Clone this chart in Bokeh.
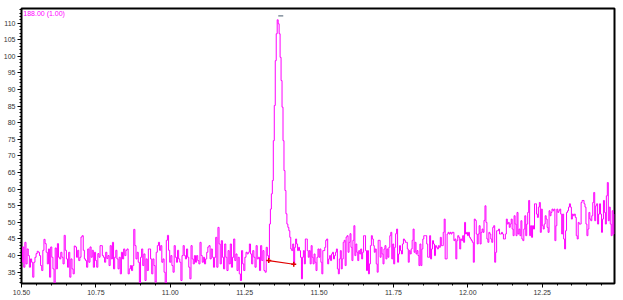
from bokeh.plotting import figure
from bokeh.models import SingleIntervalTicker, NumeralTickFormatter, Range1d, Label
from bokeh.embed import file_html
from bokeh.resources import INLINE
import numpy as np

# ---- data ----
title_text = "188.00 (1.00)"

# time windows of each stretch of the trace (min)
pre_start, pre_end = 10.500, 11.330
peak_start, peak_end = 11.330, 11.405
post_start, post_end = 11.405, 12.495

# abundance before the peak
pre_vals = [38, 42.6, 36.5, 44, 37.5, 42, 40, 36.5, 39, 38, 33.5, 38, 39.5, 40.6, 41.3, 41, 40, 37, 35.5,
            41.6, 44.9, 43.6, 41, 37.5, 42, 33.5, 42.6, 39.5, 36, 31.5, 42.3, 36, 43.6, 39.5, 39, 41, 39.5,
            37.5, 46.1, 41.6, 39, 36.5, 41, 33.5, 39, 36, 34.5, 42.9, 42.6, 39.5, 41.6, 38.5, 39.5, 45.6,
            46, 41.6, 39, 38.5, 36.5, 42, 38, 42.6, 39.5, 41.6, 36.5, 41, 38.5, 36.5, 40.6, 39.5, 43, 43,
            40, 39.5, 38, 41, 39.1, 40, 37, 43,
            39, 44, 36, 39.5, 41.6, 39, 36, 39.5, 34.5, 41, 39, 42, 40, 41.6, 42, 34.5, 36, 37, 35.5, 37,
            47.9, 43, 39, 41, 38, 31.5, 39.5, 42, 37, 40.5, 32.5, 39, 35.5, 42, 42, 39, 34.5, 39, 37, 32,
            41, 43, 44, 41.6, 43, 38, 39, 35, 31.5, 44.6, 46.1, 41.6, 38, 40, 37, 35, 43, 39.5, 38, 41.6,
            39, 38, 32.5, 40, 43, 40, 39, 42, 39.5, 36.5, 33, 43, 39, 37.5, 40, 38, 40, 38.5, 37.5, 44,
            40, 38, 39.5, 37.5, 39, 41, 42.6, 43, 39, 42, 39.5, 36.5,
            39.5, 45.5, 36.5, 48.5, 43.5, 37.5, 44.5, 39.5, 36, 43.5, 39.5, 35.5, 41.5, 37.5, 43.5, 36.5,
            39.5, 45, 38.5, 40.5, 35.5, 39.5, 34.5, 32.5, 41.5, 37.5, 35.5, 39.5, 41, 40.5, 41, 43.5, 40.5,
            37.5, 41.5, 39.5, 36.5, 43, 39, 39.5, 35.5, 43, 38.5, 41.5, 35.5, 35, 42.5, 40]

# abundance across the peak
peak_vals = [39, 49.5, 54, 58.6, 62.6, 74.6, 85.2, 98.7, 106.8, 111, 109.8, 106.8, 99.7, 92.7, 84.7,
             74.6, 65.6, 59.6, 52.6, 49.5, 48.5, 47.5, 45.5]

# abundance after the peak
post_vals = [42, 41.5, 43.5, 37.5, 42.5, 45, 43.5, 41.5, 42.5, 41.5, 39.5, 33, 39.5, 41.5, 37.5, 45, 45,
             41.5, 39.5, 41.5, 37.5, 43, 39.5, 37.5, 40.5, 38, 35.5, 39.5, 42, 39.5, 42,
             38, 34.5, 41.5, 41.5, 42.5, 44.6, 45, 37.5, 39, 40, 38.5, 40.5, 41, 39, 40, 41, 42, 36, 34.5,
             39, 41.5, 36, 39, 44, 44.6, 37, 45.6, 46, 41, 44, 46.6, 42.5, 38.5, 44.6, 49, 40, 43.5, 41,
             38.5, 41.5, 40.5, 42, 39, 41, 46, 46, 41.5, 35.5, 41.5, 34.5, 37.5, 43, 46, 45, 43, 41, 42,
             37.5, 35, 44.6, 44.6, 39.5, 42.5, 40.5, 37.5, 42, 43, 39, 42, 39.5, 42.5, 46, 47, 39, 43.5,
             37.5, 42.5, 46.6, 48, 38, 40.5, 43, 41.5, 40.5, 43.5, 45, 44.6, 44, 44, 42, 38, 41.5, 40.5,
             42, 44.6, 48, 41, 44, 40.5, 41.5, 40, 37,
             43.5, 37, 42, 45, 46, 46, 46, 43.5, 39.5, 39.5, 46, 39, 42, 44.5, 43.5, 40, 43, 42.5, 42, 43,
             42.5, 45.5, 43, 43, 47, 51, 39, 39, 46.5, 47, 46.5, 47, 46.5, 47, 47, 44.5, 45, 39, 44.5, 46,
             45.5, 42, 45, 44.5, 46, 44, 50, 46.5, 47, 46, 47, 45.5, 45, 44.5, 44, 38, 51, 50.6, 46.5,
             43.5, 46.5, 49, 43.5, 47, 48, 47, 50.6, 55, 50, 45, 44, 47, 46.5, 45, 44, 48.5, 49, 38, 41,
             47.5, 47.5, 48, 46.5, 46.5, 47, 46.5, 45, 45, 46.5, 51, 49.5, 50, 48.5, 49.5, 51, 48, 46, 52,
             49.5, 46, 53, 46.5,
             48, 46, 50.5, 45, 44.5, 48, 52, 46, 49.5, 53, 56.6, 46, 49, 45.5, 49, 48, 55.6, 55.6, 52.5,
             51.5, 54.6, 56, 47, 54, 49, 48, 49.5, 52, 51, 48.5, 47, 53.5, 52, 53, 54, 53.5, 54, 44.5, 49,
             54, 53, 53.5, 54, 52.5, 46.5, 52.5, 45, 42, 47.5, 53, 53.5, 54.6, 55.6, 54.6, 51, 52.5, 52,
             52.5, 51.5, 46, 45, 50, 49.5, 49.5, 56, 56.6, 56.6, 55.6, 54.6, 49.5, 46, 48, 53, 51, 50.5,
             52, 56, 59, 50.5, 55, 55.6, 49.5, 52.5, 55.6, 52.5, 47, 51, 56.6, 53, 49.5, 58, 62, 50.5,
             54.6, 49.5, 46, 53.5, 46.5, 52.5]

# integration baseline (start / end)
base_t = [11.331, 11.415]
base_v = [38.5, 37.4]

# axis extents
x_lo, x_hi = 10.50, 12.493
y_lo, y_hi = 31.6, 114.4

# ---- build series ----
t_pre = np.linspace(pre_start, pre_end, len(pre_vals), endpoint=False)
t_peak = np.linspace(peak_start, peak_end, len(peak_vals), endpoint=False)
t_post = np.linspace(post_start, post_end, len(post_vals), endpoint=False)
t = np.concatenate([t_pre, t_peak, t_post])
v = np.array(pre_vals + peak_vals + post_vals, dtype=float)

p = figure(width=623, height=300, output_backend="svg", toolbar_location=None,
           x_range=Range1d(x_lo, x_hi), y_range=Range1d(y_lo, y_hi),
           min_border_left=20, min_border_right=9, min_border_top=8, min_border_bottom=17)
p.background_fill_color = "white"
p.border_fill_color = "white"
p.outline_line_color = "black"
p.outline_line_width = 2
p.xgrid.visible = False
p.ygrid.visible = False

p.step(t, v, mode="after", line_color="#FF00FF", line_width=1)

# baseline
p.line(base_t, base_v, line_color="#E00000", line_width=1.2)
p.scatter(base_t, base_v, marker="cross", size=5, line_color="#E00000", line_width=1.5)

# peak apex marker
ipk = int(np.argmax(v))
p.dash([t[ipk] + 0.012], [v[ipk] + 1.2], size=5, line_color="#6a7a8a", line_width=1.2)

# axes
for ax in (p.xaxis[0], p.yaxis[0]):
    ax.axis_line_color = "black"
    ax.axis_line_width = 1
    ax.major_tick_line_color = "black"
    ax.minor_tick_line_color = "black"
    ax.major_tick_out = 4
    ax.major_tick_in = 0
    ax.minor_tick_out = 2
    ax.minor_tick_in = 0
    ax.major_label_text_font = "Liberation Sans"
    ax.major_label_text_font_size = "7px"
    ax.major_label_text_color = "#333333"
    ax.major_label_standoff = 2

p.xaxis.ticker = SingleIntervalTicker(interval=0.25, num_minor_ticks=5)
p.xaxis.formatter = NumeralTickFormatter(format="0.00")
p.yaxis.ticker = SingleIntervalTicker(interval=5, num_minor_ticks=5)
p.yaxis.formatter = NumeralTickFormatter(format="0")

p.add_layout(Label(x=x_lo + 0.006, y=y_hi - 0.6, text=title_text, text_font="Liberation Sans",
                   text_font_size="7px", text_color="#FF00FF", text_baseline="top"))

open("out.html", "w").write(file_html(p, INLINE))
